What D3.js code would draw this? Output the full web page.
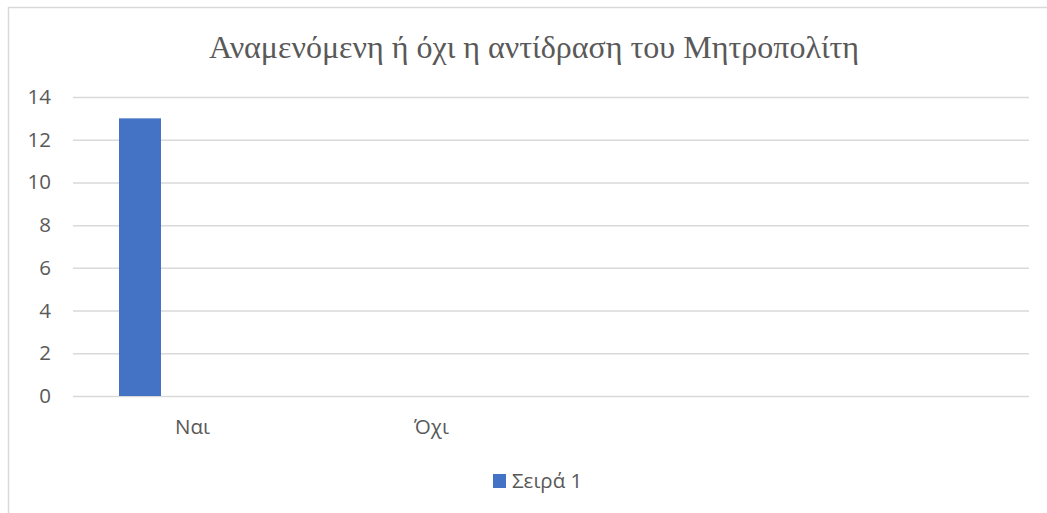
<!DOCTYPE html>
<html><head><meta charset="utf-8">
<script src="https://cdn.jsdelivr.net/npm/d3@7"></script>
<style>
body{margin:0;background:#fff;}
svg{display:block;}
</style></head>
<body><svg id="c" width="1047" height="513"></svg>
<script>
const title = "Αναμενόμενη ή όχι η αντίδραση του Μητροπολίτη";
const categories = ["Ναι", "Όχι", "", ""];
const seriesNames = ["Σειρά 1", "Σειρά 2", "Σειρά 3"];
const series1 = [13, 0, null, null];
const series2 = [null, null, null, null];
const series3 = [null, null, null, null];
const legendSeries = ["Σειρά 1"];
const yTicks = [0, 2, 4, 6, 8, 10, 12, 14];

const seriesData = [series1, series2, series3];
const svg = d3.select("#c");
const W = 1047, H = 513;
const m = {left: 73, right: 18, top: 97, bottom: 117};
const FONT = "'Open Sans','Noto Sans',sans-serif";
const FS = 20.5;
const x0 = d3.scaleBand().domain(d3.range(categories.length)).range([m.left, W - m.right]);
const x1 = d3.scaleBand().domain(seriesNames).range([0, x0.bandwidth()]).paddingInner(0.2).paddingOuter(0.876);
const y = d3.scaleLinear().domain([0, 14]).range([H - m.bottom, m.top]);

// chart border
svg.append("rect").attr("x", 8.5).attr("y", 7.5).attr("width", W + 20).attr("height", H + 20)
  .attr("fill", "#fff").attr("stroke", "#d9d9d9").attr("stroke-width", 1.5);

// title
svg.append("text").attr("x", 534).attr("y", 58).attr("text-anchor", "middle")
  .attr("font-family", "'Liberation Serif','Times New Roman',serif").attr("font-size", 32)
  .attr("fill", "#595959").text(title);

// grid
const gy = svg.append("g").attr("transform", `translate(${m.left},0)`)
  .call(d3.axisLeft(y).tickValues(yTicks).tickSize(-(W - m.right - m.left)).tickFormat(d3.format("d")).tickPadding(22));
gy.select(".domain").remove();
gy.selectAll(".tick line").attr("stroke", "#d9d9d9").attr("stroke-width", 1.5);
gy.selectAll(".tick text").attr("fill", "#595959").attr("font-size", FS).attr("font-family", FONT);

// bars
seriesData.forEach((vals, si) => {
  svg.append("g").selectAll("rect").data(vals.map((v, i) => ({v, i})).filter(d => d.v != null && d.v > 0))
    .join("rect")
    .attr("x", d => x0(d.i) + x1(seriesNames[si]))
    .attr("width", x1.bandwidth())
    .attr("y", d => y(d.v))
    .attr("height", d => y(0) - y(d.v))
    .attr("fill", "#4472c4");
});

// x axis labels
const gx = svg.append("g").attr("transform", `translate(0,${y(0)})`)
  .call(d3.axisBottom(x0).tickSize(0).tickPadding(23).tickFormat(i => categories[i]));
gx.select(".domain").remove();
gx.selectAll(".tick text").attr("fill", "#595959").attr("font-size", FS).attr("font-family", FONT);

// legend
const lg = svg.append("g");
legendSeries.forEach((s, k) => {
  lg.append("rect").attr("x", 493).attr("y", 474).attr("width", 13).attr("height", 14).attr("fill", "#4472c4");
  lg.append("text").attr("x", 512).attr("y", 488).attr("fill", "#595959").attr("font-size", FS)
    .attr("font-family", FONT).text(s);
});
</script></body></html>
